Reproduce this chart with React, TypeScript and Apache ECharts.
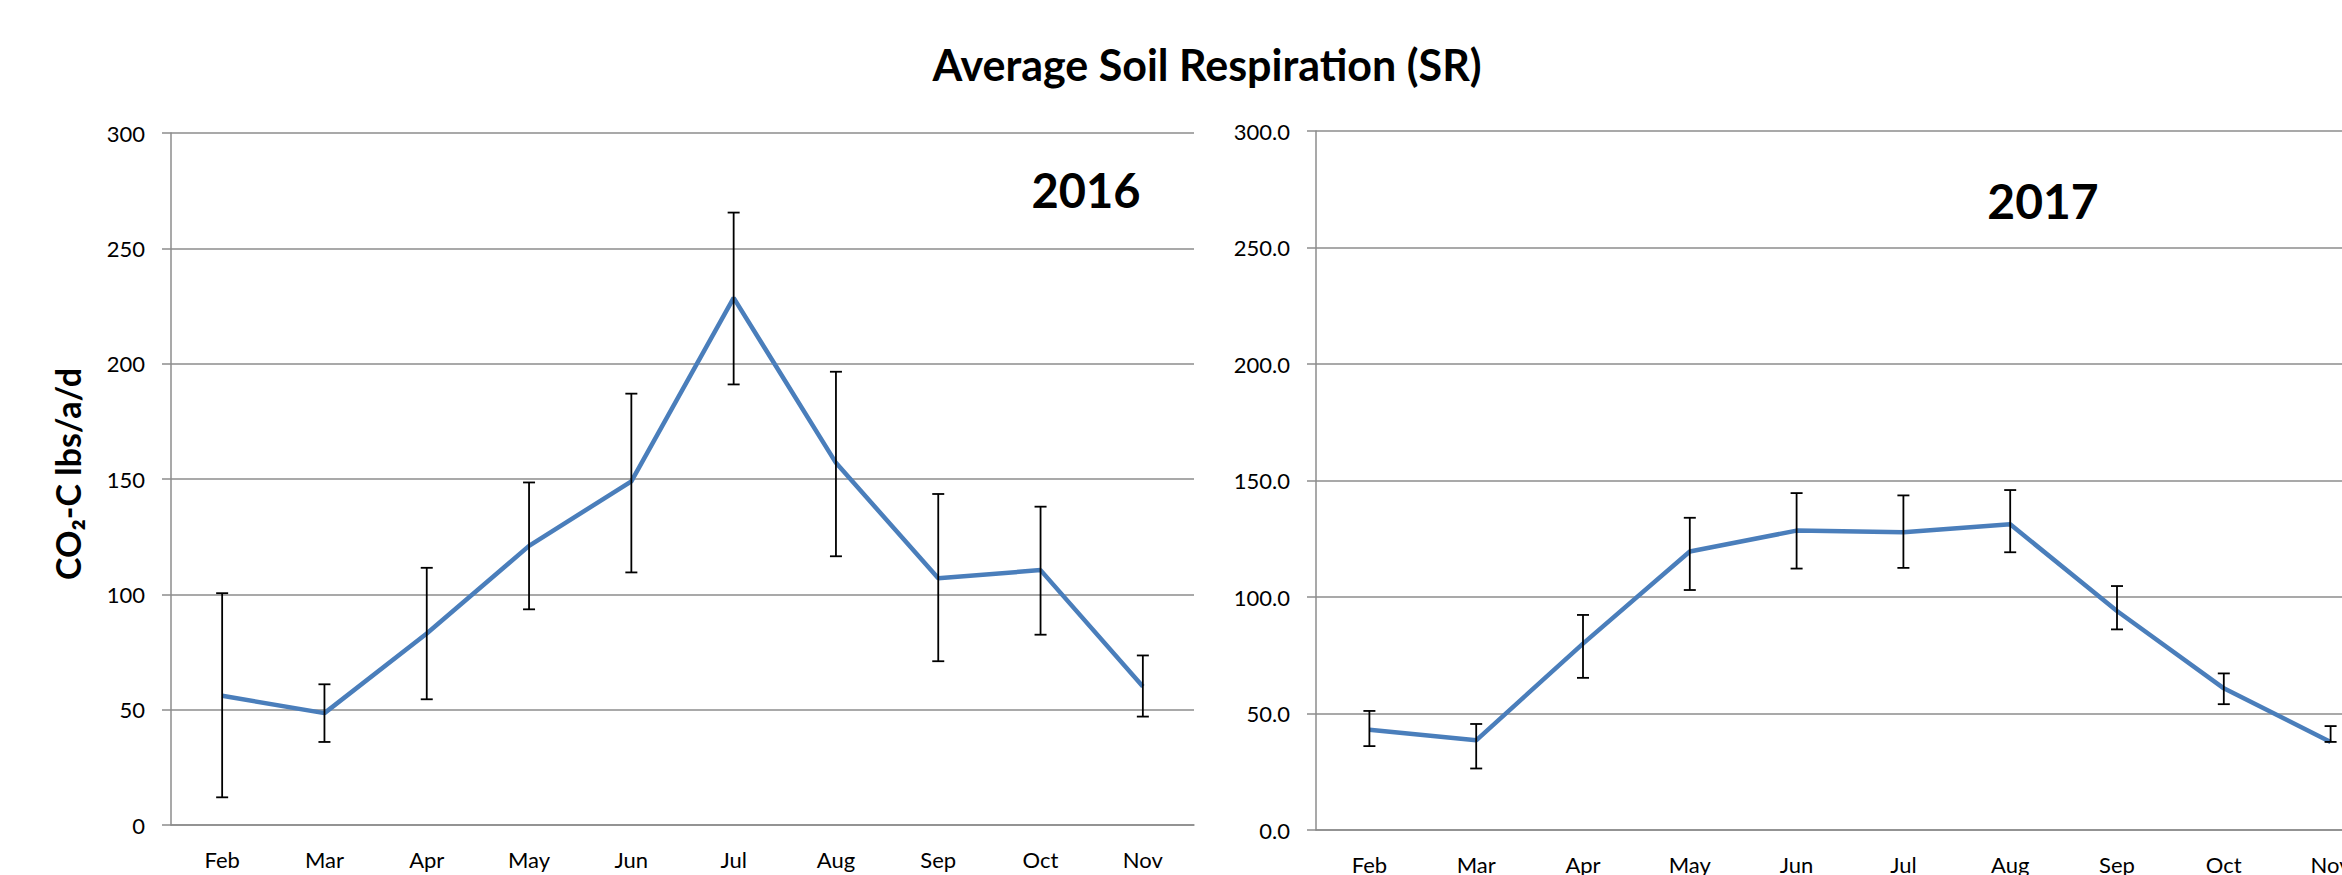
import React, { useEffect, useRef } from 'react';
import * as echarts from 'echarts';

const months = ['Feb', 'Mar', 'Apr', 'May', 'Jun', 'Jul', 'Aug', 'Sep', 'Oct', 'Nov'];

const sr2016 = [56, 48.5, 83, 121, 149, 228.5, 157, 107, 110.5, 60];
const sr2016Low = [12, 36, 54.5, 93.5, 109.5, 191, 116.5, 71, 82.5, 47];
const sr2016High = [100.5, 61, 111.5, 148.5, 187, 265.5, 196.5, 143.5, 138, 73.5];

const sr2017 = [43, 38.5, 80, 119.5, 128.5, 127.8, 131.2, 94, 60.8, 37.8];
const sr2017Low = [36, 26.4, 65.3, 103, 112.2, 112.5, 119.2, 86.1, 54, 37.8];
const sr2017High = [51.1, 45.5, 92.3, 134, 144.6, 143.6, 145.9, 104.7, 67.2, 44.6];

const chartTitle = 'Average Soil Respiration (SR)';
const yTitle = 'CO\u2082-C lbs/a/d';
const panelLabels = ['2016', '2017'];

const FONT = 'Lato, "DejaVu Sans", sans-serif';
const GRAY = '#8c8c8c';
const BLUE = '#4a7ebb';

function errorRender(params: any, api: any) {
  const x = api.value(0);
  const lo = api.coord([x, api.value(1)]);
  const hi = api.coord([x, api.value(2)]);
  const w = 6;
  const style = { stroke: '#000', lineWidth: 1.8 };
  return {
    type: 'group',
    children: [
      { type: 'line', shape: { x1: hi[0], y1: hi[1], x2: lo[0], y2: lo[1] }, style },
      { type: 'line', shape: { x1: hi[0] - w, y1: hi[1], x2: hi[0] + w, y2: hi[1] }, style },
      { type: 'line', shape: { x1: lo[0] - w, y1: lo[1], x2: lo[0] + w, y2: lo[1] }, style },
    ],
  };
}

function xAxisCfg(gridIndex: number) {
  return {
    type: 'category',
    gridIndex,
    data: months,
    boundaryGap: true,
    axisTick: { show: false },
    axisLine: { show: true, lineStyle: { color: GRAY, width: 1.5 } },
    axisLabel: { margin: 23, fontSize: 22, color: '#000', fontFamily: FONT, interval: 0 },
    splitLine: { show: false },
  };
}

function yAxisCfg(gridIndex: number, decimals: number) {
  return {
    type: 'value',
    gridIndex,
    min: 0,
    max: 300,
    interval: 50,
    axisLine: { show: true, lineStyle: { color: GRAY, width: 1.5 } },
    axisTick: { show: true, length: 9, lineStyle: { color: GRAY, width: 1.5 } },
    axisLabel: {
      margin: 26,
      fontSize: 22,
      color: '#000',
      fontFamily: FONT,
      formatter: (v: number) => v.toFixed(decimals),
    },
    splitLine: { show: true, lineStyle: { color: GRAY, width: 1.5 } },
  };
}

export default function App() {
  const ref = useRef<HTMLDivElement>(null);
  useEffect(() => {
    if (!ref.current) return;
    document.body.style.overflow = 'hidden';
    const chart = echarts.init(ref.current, undefined, { renderer: 'svg' });
    chart.setOption({
      animation: false,
      backgroundColor: '#fff',
      grid: [
        { left: 171, top: 133, width: 1023, height: 692 },
        { left: 1316, top: 131, width: 1068, height: 707 },
      ],
      xAxis: [xAxisCfg(0), xAxisCfg(1)],
      yAxis: [yAxisCfg(0, 0), yAxisCfg(1, 1)],
      series: [
        {
          type: 'line',
          xAxisIndex: 0,
          yAxisIndex: 0,
          data: sr2016,
          symbol: 'none',
          lineStyle: { color: BLUE, width: 4.5 },
          z: 2,
        },
        {
          type: 'custom',
          xAxisIndex: 0,
          yAxisIndex: 0,
          renderItem: errorRender,
          encode: { x: 0, y: [1, 2] },
          data: months.map((_, i) => [i, sr2016Low[i], sr2016High[i]]),
          z: 3,
        },
        {
          type: 'line',
          xAxisIndex: 1,
          yAxisIndex: 1,
          data: sr2017,
          symbol: 'none',
          lineStyle: { color: BLUE, width: 4.5 },
          z: 2,
        },
        {
          type: 'custom',
          xAxisIndex: 1,
          yAxisIndex: 1,
          renderItem: errorRender,
          encode: { x: 0, y: [1, 2] },
          data: months.map((_, i) => [i, sr2017Low[i], sr2017High[i]]),
          z: 3,
        },
      ],
      graphic: [
        {
          type: 'text',
          x: 1207,
          y: 64,
          style: {
            text: chartTitle,
            fontSize: 43,
            fontWeight: 'bold',
            fontFamily: FONT,
            fill: '#000',
            align: 'center',
            verticalAlign: 'middle',
          },
        },
        {
          type: 'text',
          x: 1086,
          y: 190,
          style: {
            text: panelLabels[0],
            fontSize: 47,
            fontWeight: 'bold',
            fontFamily: FONT,
            fill: '#000',
            align: 'center',
            verticalAlign: 'middle',
          },
        },
        {
          type: 'text',
          x: 2043,
          y: 200,
          style: {
            text: panelLabels[1],
            fontSize: 48,
            fontWeight: 'bold',
            fontFamily: FONT,
            fill: '#000',
            align: 'center',
            verticalAlign: 'middle',
          },
        },
        {
          type: 'text',
          x: 67,
          y: 474,
          rotation: Math.PI / 2,
          style: {
            text: yTitle,
            fontSize: 34,
            fontWeight: 'bold',
            fontFamily: FONT,
            fill: '#000',
            align: 'center',
            verticalAlign: 'middle',
          },
        },
      ],
    });
    return () => chart.dispose();
  }, []);
  return (
    <div
      ref={ref}
      style={{ position: 'fixed', left: 0, top: 0, width: 2400, height: 875, background: '#fff' }}
    />
  );
}
